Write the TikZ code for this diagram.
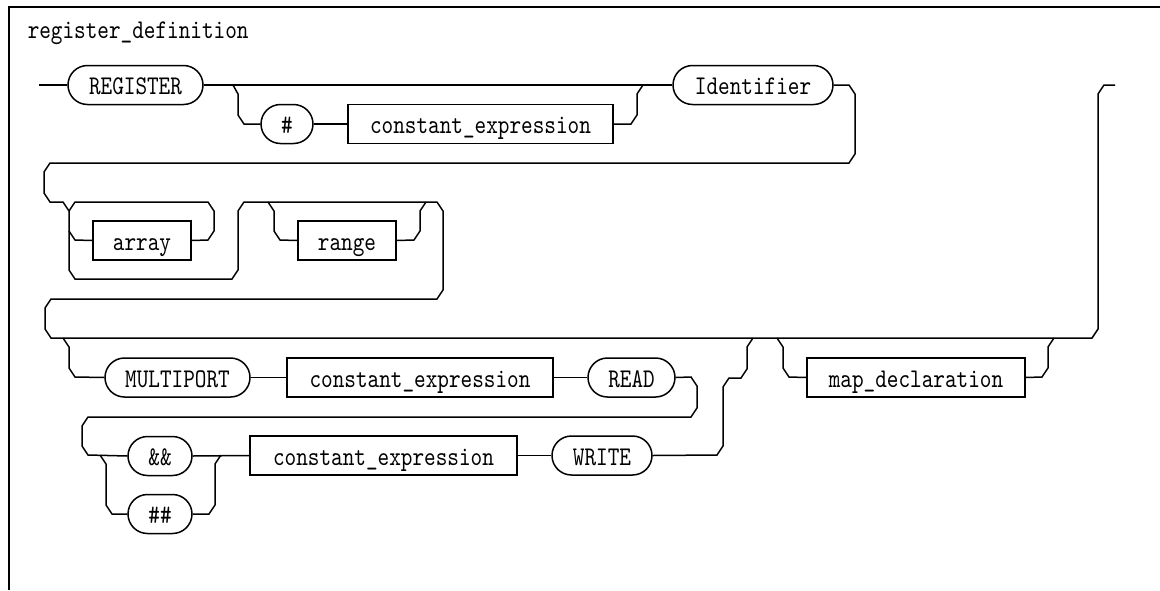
\documentclass[tikz,border=0pt]{standalone}
\usepackage{fontspec}
\newfontfamily\synfont{lmmono10-regular.otf}[FakeStretch=0.82]
\usetikzlibrary{shapes.misc}

\begin{document}
\begin{tikzpicture}[x=1pt,y=-1pt,line width=1.5pt,
		font=\synfont\fontsize{27}{28}\selectfont,
		token/.style={draw,rounded rectangle,minimum height=39pt,inner sep=0pt,text height=19pt,text depth=0pt},
		prod/.style={draw,rectangle,minimum height=39pt,inner sep=0pt,text height=19pt,text depth=0pt}]
	\useasboundingbox (0,0) rectangle (1160,590);
	\draw (9,590) -- (9,7) -- (1160,7);
	\node[anchor=base west,inner sep=0pt] (title) at (27,38) {register\_definition};

	% first line
	\node[token,minimum width=135pt] (reg) at (135.5,85) {REGISTER};
	\node[token,minimum width=52pt] (hash) at (287,124) {\#};
	\node[prod,minimum width=265pt] (cexpA) at (480.5,124) {constant\_expression};
	\node[token,minimum width=160pt] (ident) at (753,85) {Identifier};

	\coordinate (start) at (39,85);
	\draw (start) -- (reg.west);
	\draw (reg.east) -- (ident.west);
	\draw (233,85) -- (238,94) -- (238,115) -- (244,124) -- (hash.west);
	\draw (hash.east) -- (cexpA.west);
	\draw (cexpA.east) -- (631,124) -- (637,115) -- (637,94) -- (643,85);

	% array and range
	\node[prod,minimum width=98pt] (arr) at (142,240.5) {array};
	\node[prod,minimum width=98pt] (rng) at (347,240.5) {range};

	\draw (ident.east) -- (849,85) -- (855,94) -- (855,154) -- (849,163)
		-- (50,163) -- (44,172) -- (44,193) -- (50,202) -- (63,202) -- (69,211)
		-- (69,270) -- (75,279) -- (232,279) -- (238,270) -- (238,211) -- (244,202)
		-- (437,202) -- (443,211) -- (443,290) -- (437,299)
		-- (51,299) -- (45,308) -- (45,329) -- (51,338)
		-- (1092,338) -- (1098,329) -- (1098,94) -- (1104,85) -- (1115,85);
	\draw (69,211) -- (75,202) -- (208,202) -- (214,211) -- (214,231) -- (208,240) -- (arr.east);
	\draw (arr.west) -- (75,240) -- (69,231);
	\draw (268,202) -- (274,211) -- (274,231) -- (280,240) -- (rng.west);
	\draw (rng.east) -- (414,240) -- (420,231) -- (420,211) -- (426,202);

	% multiport
	\node[token,minimum width=145pt] (mport) at (177.5,377.5) {MULTIPORT};
	\node[prod,minimum width=266pt] (cexpB) at (420,377.5) {constant\_expression};
	\node[token,minimum width=87pt] (read) at (631.5,377.5) {READ};
	\node[token,minimum width=64pt] (amp) at (160,456) {\&\&};
	\node[token,minimum width=64pt] (dhash) at (160,514) {\#\#};
	\node[prod,minimum width=267pt] (cexpC) at (383.5,455.5) {constant\_expression};
	\node[token,minimum width=100pt] (write) at (602,455.5) {WRITE};
	\node[prod,minimum width=218pt] (mapd) at (916,377.5) {map\_declaration};

	\draw (63,338) -- (69,347) -- (69,368) -- (75,377) -- (mport.west);
	\draw (mport.east) -- (cexpB.west);
	\draw (cexpB.east) -- (read.west);
	\draw (read.east) -- (691,377) -- (697,386) -- (697,408) -- (691,417)
		-- (88,417) -- (82,426) -- (82,446) -- (88,455) -- (amp.west);
	\draw (100,455) -- (106,464) -- (106,505) -- (112,514) -- (dhash.west);
	\draw (dhash.east) -- (209,514) -- (215,505) -- (215,464) -- (221,455);
	\draw (amp.east) -- (cexpC.west);
	\draw (cexpC.east) -- (write.west);
	\draw (write.east) -- (717,455) -- (723,446) -- (723,387) -- (729,378)
		-- (741,378) -- (747,369) -- (747,347) -- (753,338);
	\draw (777,338) -- (783,347) -- (783,368) -- (789,377) -- (mapd.west);
	\draw (mapd.east) -- (1042,377) -- (1048,368) -- (1048,347) -- (1054,338);
\end{tikzpicture}
\end{document}
